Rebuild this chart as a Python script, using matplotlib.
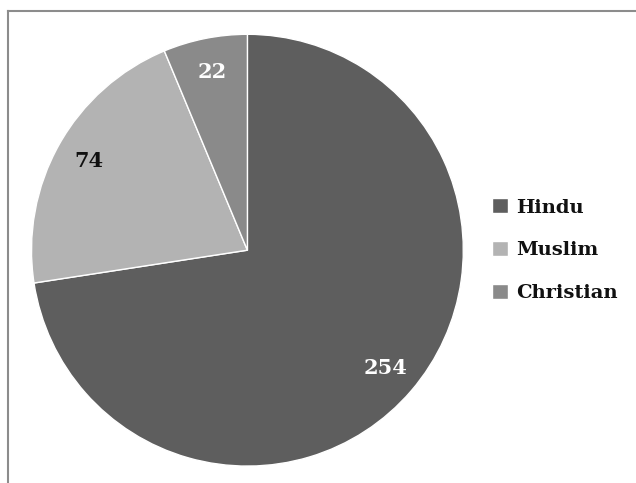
import matplotlib
matplotlib.use("Agg")
import matplotlib.pyplot as plt
from matplotlib.lines import Line2D

labels = ["Hindu", "Muslim", "Christian"]
counts = [254, 74, 22]
colors = ["#5e5e5e", "#b3b3b3", "#8a8a8a"]
label_colors = ["white", "#111111", "white"]

plt.rcParams.update({"font.family": "DejaVu Serif", "font.weight": "bold"})

fig = plt.figure(figsize=(6.36, 4.83), dpi=100)
fig.patch.set_facecolor("white")

# square axes holding the pie, centred at ~(247, 250) px
ax = fig.add_axes([0.0495, 0.035, 0.679, 0.894])
wedges, texts, autotexts = ax.pie(
    counts, colors=colors, startangle=90, counterclock=False,
    autopct=lambda p: f"{round(p * sum(counts) / 100):d}", pctdistance=0.84,
    wedgeprops=dict(edgecolor="white", linewidth=1.0),
    textprops=dict(fontsize=15, fontweight="bold"))
for t, c in zip(autotexts, label_colors):
    t.set_color(c)
ax.set_aspect("equal")
ax.set_xlim(-1, 1); ax.set_ylim(-1, 1)

leg = fig.legend(wedges, labels, loc="center left", bbox_to_anchor=(0.746, 0.482),
                 frameon=False, handlelength=0.8, handleheight=0.8,
                 handletextpad=0.45, labelspacing=1.26,
                 prop=dict(family="DejaVu Serif", weight="bold", size=14))
for t in leg.get_texts():
    t.set_color("#111111")

# partial outer frame (top and left edges)
fig.add_artist(Line2D([8 / 636, 8 / 636], [0, 1 - 10.5 / 483], transform=fig.transFigure,
                      color="#8c8c8c", lw=1.5))
fig.add_artist(Line2D([8 / 636, 1], [1 - 10.5 / 483, 1 - 10.5 / 483], transform=fig.transFigure,
                      color="#8c8c8c", lw=1.5))

fig.savefig("out.png", dpi=100, facecolor="white")
